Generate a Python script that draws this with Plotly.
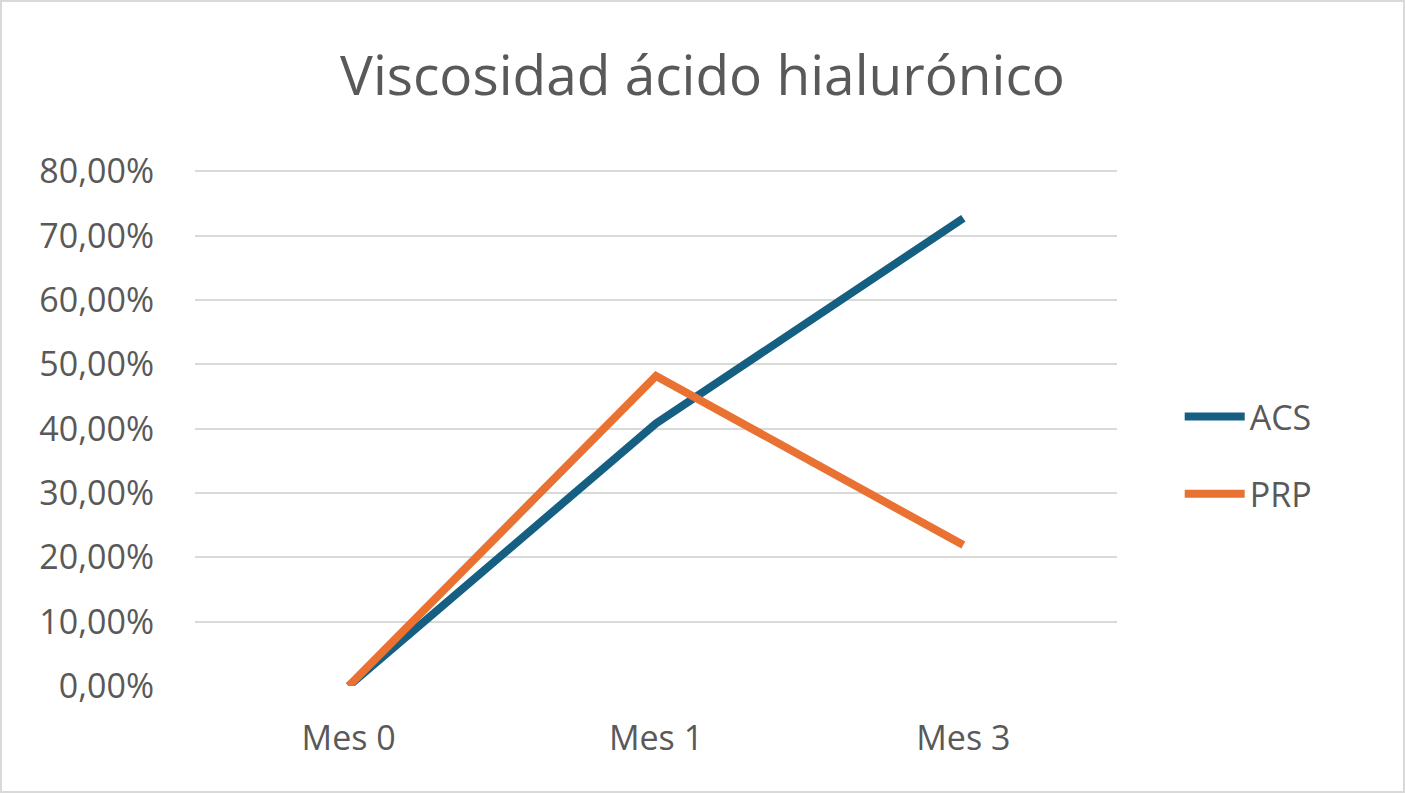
import plotly.graph_objects as go

categories = ["Mes 0", "Mes 1", "Mes 3"]
acs = [0.0, 0.408, 0.727]
prp = [0.0, 0.482, 0.219]
series_names = ["ACS", "PRP"]
colors = ["#156082", "#E97132"]

fig = go.Figure()
for name, vals, col in zip(series_names, [acs, prp], colors):
    fig.add_trace(go.Scatter(
        x=categories, y=vals, name=name, mode="lines", legendgroup=name,
        line=dict(color=col, width=8),
    ))

font_family = "Open Sans, Liberation Sans, sans-serif"
fig.update_layout(
    width=1405, height=793,
    paper_bgcolor="white", plot_bgcolor="white",
    separators=", ",
    margin=dict(l=195, r=288, t=170, b=107),
    title=dict(text="Viscosidad ácido hialurónico", x=0.5, xanchor="center",
               y=0.905, yanchor="middle",
               font=dict(family=font_family, size=55, color="#595959")),
    font=dict(family=font_family, color="#595959"),
    xaxis=dict(type="category", range=[-0.5, 2.5], showgrid=False, showline=False, ticks="",
               tickfont=dict(size=34, color="#595959"), ticklabelstandoff=29),
    yaxis=dict(range=[0, 0.802], tickvals=[i / 10 for i in range(9)], tickformat=".2%",
               gridcolor="#d9d9d9", gridwidth=2, zeroline=False, showline=False,
               tickfont=dict(size=34, color="#595959"), ticklabelstandoff=40),
    legend=dict(x=1.068, xanchor="left", y=0.447, yanchor="middle",
                font=dict(size=34, color="#595959"), tracegroupgap=30,
                itemwidth=60),
    shapes=[dict(type="rect", xref="paper", yref="paper",
                 x0=-194/922, x1=1+287/922, y0=-106/516, y1=1+169/516,
                 line=dict(color="#d9d9d9", width=2))],
)
fig.write_html("out.html", config={"displayModeBar": False},
               post_script="document.body.style.margin='0';")
